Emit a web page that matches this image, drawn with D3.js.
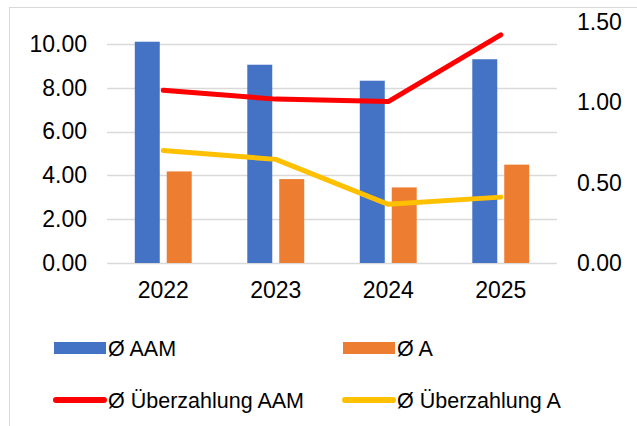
<!DOCTYPE html>
<html>
<head>
<meta charset="utf-8">
<script src="https://cdn.jsdelivr.net/npm/d3@7"></script>
<style>
  html, body { margin: 0; padding: 0; background: #fff; }
  svg { display: block; font-family: "Liberation Sans", Arial, sans-serif; }
</style>
</head>
<body>
<svg id="chart" width="637" height="426"></svg>
<script>
const categories = ["2022", "2023", "2024", "2025"];
const avgAAM = [10.10, 9.05, 8.32, 9.30];
const avgA = [4.18, 3.83, 3.45, 4.49];
const overAAM = [1.075, 1.02, 1.005, 1.42];
const overA = [0.70, 0.645, 0.365, 0.41];
const leftTicks = [0, 2, 4, 6, 8, 10];
const rightTicks = [0, 0.5, 1.0, 1.5];
const seriesNames = ["Ø AAM", "Ø A", "Ø Überzahlung AAM", "Ø Überzahlung A"];

const colors = { aam: "#4472C4", a: "#ED7D31", overAAM: "#FF0000", overA: "#FFC000" };

const svg = d3.select("#chart");

// outer border
svg.append("rect").attr("x", 9.5).attr("y", 7.5).attr("width", 700).attr("height", 500)
  .attr("fill", "none").attr("stroke", "#D9D9D9").attr("stroke-width", 1);

const plot = { left: 107, right: 557, top: 22, bottom: 263 };

const x = d3.scaleBand().domain(categories).range([plot.left, plot.right]).padding(0);
const yL = d3.scaleLinear().domain([0, 11]).range([plot.bottom, plot.top]);
const yR = d3.scaleLinear().domain([0, 1.5]).range([plot.bottom, plot.top]);

// gridlines
svg.append("g").selectAll("line").data(leftTicks).join("line")
  .attr("x1", plot.left).attr("x2", plot.right)
  .attr("y1", d => Math.round(yL(d)) + 0.5).attr("y2", d => Math.round(yL(d)) + 0.5)
  .attr("stroke", "#D9D9D9").attr("stroke-width", 1.5);

const tickFont = 23;

// left axis
const axL = d3.axisLeft(yL).tickValues(leftTicks).tickFormat(d3.format(".2f")).tickSize(0).tickPadding(0);
const gL = svg.append("g").attr("transform", `translate(87,0)`).call(axL);
gL.select(".domain").remove();
gL.selectAll("text").attr("font-size", tickFont).attr("fill", "#000").attr("font-family", "Liberation Sans, Arial, sans-serif");

// right axis
const axR = d3.axisRight(yR).tickValues(rightTicks).tickFormat(d3.format(".2f")).tickSize(0).tickPadding(0);
const gR = svg.append("g").attr("transform", `translate(577,0)`).call(axR);
gR.select(".domain").remove();
gR.selectAll("text").attr("font-size", tickFont).attr("fill", "#000").attr("font-family", "Liberation Sans, Arial, sans-serif");

// bottom axis
const axB = d3.axisBottom(x).tickSize(0).tickPadding(0);
const gB = svg.append("g").attr("transform", `translate(0,282)`).call(axB);
gB.select(".domain").remove();
gB.selectAll("text").attr("font-size", tickFont).attr("fill", "#000").attr("dy", "0.71em").attr("font-family", "Liberation Sans, Arial, sans-serif");

// bars
const bw = x.bandwidth();
const barW = bw * 0.222;
const gap = bw * 0.062;
const center = d => x(d) + bw / 2;

svg.append("g").selectAll("rect").data(categories).join("rect")
  .attr("x", d => center(d) - gap / 2 - barW)
  .attr("width", barW)
  .attr("y", (d, i) => yL(avgAAM[i]))
  .attr("height", (d, i) => yL(0) - yL(avgAAM[i]))
  .attr("fill", colors.aam);

svg.append("g").selectAll("rect").data(categories).join("rect")
  .attr("x", d => center(d) + gap / 2)
  .attr("width", barW)
  .attr("y", (d, i) => yL(avgA[i]))
  .attr("height", (d, i) => yL(0) - yL(avgA[i]))
  .attr("fill", colors.a);

// lines
const line = d3.line().x(d => center(d.c)).y(d => yR(d.v));
function drawLine(vals, color) {
  svg.append("path")
    .datum(categories.map((c, i) => ({ c, v: vals[i] })))
    .attr("d", line)
    .attr("fill", "none").attr("stroke", color).attr("stroke-width", 5)
    .attr("stroke-linecap", "round").attr("stroke-linejoin", "round");
}
drawLine(overAAM, colors.overAAM);
drawLine(overA, colors.overA);

// legend
const leg = svg.append("g").attr("font-size", 21.5);
const legItems = [
  { name: seriesNames[0], type: "rect", color: colors.aam, x: 54, y: 348 },
  { name: seriesNames[1], type: "rect", color: colors.a, x: 343, y: 348 },
  { name: seriesNames[2], type: "line", color: colors.overAAM, x: 54, y: 400 },
  { name: seriesNames[3], type: "line", color: colors.overA, x: 343, y: 400 }
];
legItems.forEach(it => {
  if (it.type === "rect") {
    leg.append("rect").attr("x", it.x).attr("y", it.y - 6).attr("width", 52).attr("height", 12).attr("fill", it.color);
  } else {
    leg.append("line").attr("x1", it.x + 2).attr("x2", it.x + 50).attr("y1", it.y).attr("y2", it.y)
      .attr("stroke", it.color).attr("stroke-width", 6).attr("stroke-linecap", "round");
  }
  leg.append("text").attr("x", it.x + 54).attr("y", it.y).attr("dy", "0.36em")
    .attr("fill", "#000").text(it.name);
});
</script>
</body>
</html>
